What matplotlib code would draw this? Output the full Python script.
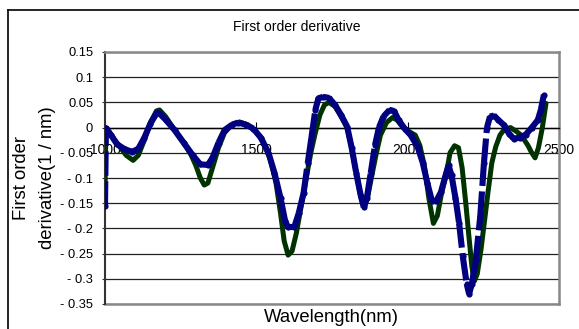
import matplotlib
matplotlib.use("Agg")
import matplotlib.pyplot as plt
import numpy as np
from matplotlib.collections import LineCollection
from matplotlib.lines import Line2D

plt.rcParams['font.family'] = ['Liberation Sans', 'DejaVu Sans']

# blue series (dashed look)
blue_x = [1000, 1003, 1020, 1040, 1065, 1090, 1110, 1130, 1150, 1170, 1180, 1200,
          1230, 1260, 1290, 1315, 1340, 1355, 1375, 1395, 1420, 1440, 1465, 1490,
          1515, 1540, 1560, 1580, 1595, 1605, 1625, 1640, 1656, 1670, 1682, 1695,
          1705, 1720, 1740, 1760, 1780, 1800, 1815, 1830, 1845, 1855, 1865, 1878,
          1892, 1905, 1920, 1940, 1955, 1970, 1990, 2010, 2033, 2050, 2065, 2080,
          2095, 2110, 2125, 2135, 2145, 2158, 2170, 2182, 2195, 2203, 2212, 2225,
          2240, 2252, 2262, 2272, 2285, 2300, 2318, 2335, 2350, 2370, 2390, 2410,
          2430, 2440, 2450]
blue_y = [-0.155, 0.0, -0.015, -0.033, -0.043, -0.048, -0.042, -0.02, 0.008, 0.028, 0.028, 0.016,
          -0.005, -0.03, -0.055, -0.073, -0.074, -0.06, -0.03, -0.005, 0.006, 0.01, 0.006, -0.002,
          -0.02, -0.05, -0.09, -0.14, -0.185, -0.198, -0.198, -0.17, -0.13, -0.07, -0.02, 0.035,
          0.058, 0.061, 0.059, 0.045, 0.025, 0.002, -0.04, -0.09, -0.135, -0.158, -0.14, -0.09,
          -0.035, 0.0, 0.022, 0.035, 0.033, 0.015, -0.002, -0.015, -0.038, -0.07, -0.11, -0.145,
          -0.145, -0.128, -0.095, -0.075, -0.095, -0.14, -0.19, -0.255, -0.31, -0.33, -0.31, -0.263,
          -0.175, -0.07, 0.0, 0.022, 0.024, 0.015, 0.005, -0.012, -0.022, -0.02, -0.014, 0.0,
          0.015, 0.035, 0.065]

# green series (solid)
green_x = [1000, 1003, 1020, 1045, 1070, 1093, 1110, 1130, 1150, 1170, 1180, 1200,
           1230, 1260, 1285, 1300, 1315, 1328, 1340, 1355, 1375, 1395, 1420, 1445,
           1470, 1495, 1520, 1545, 1565, 1580, 1592, 1605, 1618, 1632, 1650, 1665,
           1680, 1695, 1710, 1725, 1740, 1760, 1780, 1800, 1815, 1830, 1845, 1857,
           1867, 1880, 1895, 1910, 1930, 1950, 1965, 1985, 2005, 2025, 2040, 2055,
           2070, 2085, 2098, 2112, 2126, 2140, 2155, 2168, 2180, 2192, 2203, 2212,
           2220, 2230, 2242, 2255, 2265, 2278, 2291, 2305, 2320, 2340, 2360, 2375,
           2397, 2410, 2421, 2432, 2445, 2457]
green_y = [-0.13, 0.0, -0.015, -0.035, -0.055, -0.065, -0.055, -0.025, 0.01, 0.033, 0.035, 0.022,
           -0.005, -0.03, -0.055, -0.075, -0.1, -0.114, -0.11, -0.08, -0.04, -0.01, 0.006, 0.011,
           0.006, -0.005, -0.025, -0.06, -0.11, -0.17, -0.225, -0.253, -0.245, -0.21, -0.15, -0.1,
           -0.05, -0.01, 0.025, 0.045, 0.05, 0.042, 0.022, 0.0, -0.04, -0.09, -0.135, -0.158,
           -0.14, -0.1, -0.055, -0.015, 0.01, 0.02, 0.015, 0.0, -0.008, -0.015, -0.035, -0.075,
           -0.14, -0.19, -0.175, -0.13, -0.097, -0.05, -0.036, -0.04, -0.08, -0.15, -0.22, -0.275,
           -0.305, -0.29, -0.243, -0.18, -0.13, -0.07, -0.038, -0.015, -0.003, 0.0, -0.008, -0.015,
           -0.035, -0.05, -0.06, -0.04, 0.0, 0.048]

y_ticks = [-0.35, -0.3, -0.25, -0.2, -0.15, -0.1, -0.05, 0, 0.05, 0.1, 0.15]
y_labels = ['- 0.35', '- 0.3', '- 0.25', '- 0.2', '- 0.15', '- 0.1', '- 0.05', '0', '0.05', '0.1', '0.15']
x_ticks = [1000, 1500, 2000, 2500]
x_labels = ['1000', '1500', '2000', '2500']

fig = plt.figure(figsize=(5.79, 3.29), dpi=100)
ax = fig.add_axes([105/579, 1-304/329, 454/579, 252/329])

ax.plot(green_x, green_y, color='#003300', lw=3.6, zorder=3,
        solid_capstyle='round', solid_joinstyle='round')

# each segment gets its own dash pattern, so only long (steep) segments show gaps
pts = np.column_stack([blue_x, blue_y])
segs = np.stack([pts[:-1], pts[1:]], axis=1)
lc = LineCollection(segs, colors='#000080', linewidths=4.4, linestyles=[(0, (4.0, 0.9))], zorder=4)
lc.set_capstyle('butt')
ax.add_collection(lc)
# round dots at the joints keep the flat parts smooth
ax.scatter(blue_x, blue_y, s=20, color='#000080', zorder=4, linewidths=0)

ax.set_xlim(1000, 2500)
ax.set_ylim(-0.35, 0.15)
ax.set_yticks(y_ticks)
ax.set_yticklabels(y_labels, fontsize=9.3)
ax.set_xticks(x_ticks)
ax.set_xticklabels(x_labels, fontsize=9.3)

ax.grid(axis='y', color='#222222', lw=0.9, zorder=1)
ax.set_axisbelow(True)

ax.spines['bottom'].set_position(('data', 0))
ax.spines['bottom'].set_color('black')
ax.spines['bottom'].set_linewidth(1.0)
ax.spines['left'].set_color('#333333')
ax.spines['left'].set_linewidth(1.5)
for s in ['top', 'right']:
    ax.spines[s].set_color('#888888')
    ax.spines[s].set_linewidth(1.8)
ax.axhline(-0.35, color='#888888', lw=1.8, zorder=2.5, clip_on=False)

ax.tick_params(axis='x', direction='in', length=4, pad=11, color='black')
ax.tick_params(axis='y', direction='out', length=2.5, pad=6, color='#333333')

fig.text(331/579, 1-317/329, 'Wavelength(nm)', fontsize=13.3, ha='center', va='center')
fig.text(297/579, 1-27/329, 'First order derivative', fontsize=10, ha='center', va='center')
fig.text(22/579, 1-178/329, 'First order', fontsize=13.3, rotation=90, ha='center', va='center')
fig.text(48/579, 1-178/329, 'derivative(1 / nm)', fontsize=13.3, rotation=90, ha='center', va='center')

# outer chart frame (only left and top edges are inside the picture)
fig.add_artist(Line2D([8/579, 8/579], [0, 1-10/329], color='black', lw=1.2))
fig.add_artist(Line2D([8/579, 1], [1-10/329, 1-10/329], color='black', lw=1.2))

fig.savefig('out.png', dpi=100)
